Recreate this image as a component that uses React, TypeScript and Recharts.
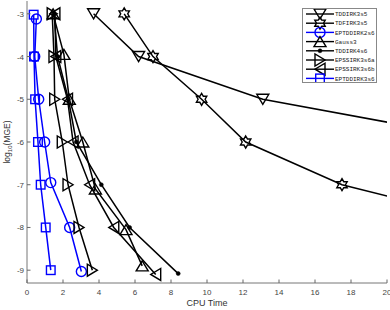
import React from 'react';
import { LineChart, Line, XAxis, YAxis, Legend } from 'recharts';

// ---- data ----
const seriesNames = ['TDDIRK3s5', 'TDFIRK3s5', 'EPTDDIRK2s6', 'Gauss3', 'TDDIRK4s6', 'EPSSIRK3s6a', 'EPSSIRK3s6b', 'EPTDDIRK3s6'];
const seriesColors = ['#000000', '#000000', '#0000ff', '#000000', '#000000', '#000000', '#000000', '#0000ff'];
const seriesMarkers = ['v', 'hex', 'o', '^', 'dot', '>', '<', 'sq'];

const tddirk3s5Time = [3.7, 6.2, 13.1, 26];
const tddirk3s5Err = [-3, -4, -5, -6];
const tdfirk3s5Time = [5.4, 7.0, 9.7, 12.15, 17.5, 27];
const tdfirk3s5Err = [-3, -4, -5, -6, -7, -8];
const eptddirk2s6Time = [0.52, 0.43, 0.65, 0.98, 1.32, 2.37, 3.02];
const eptddirk2s6Err = [-3.12, -4, -5, -6, -6.95, -8, -9.03];
const gauss3Time = [1.45, 2.05, 2.35, 3.1, 3.8, 5.5, 6.4];
const gauss3Err = [-3, -3.95, -5, -6, -7.1, -8.05, -8.9];
const tddirk4s6Time = [1.5, 1.7, 2.3, 2.74, 4.13, 5.7, 8.4];
const tddirk4s6Err = [-3, -4, -5, -6, -7, -8, -9.08];
const epssirk3s6aTime = [1.4, 1.5, 1.54, 1.96, 2.28, 2.89, 3.63];
const epssirk3s6aErr = [-3, -4, -5, -6, -7, -8, -9];
const epssirk3s6bTime = [1.55, 1.6, 2.25, 2.56, 3.48, 4.82, 7.15];
const epssirk3s6bErr = [-3, -4, -5, -6, -7, -8, -9.1];
const eptddirk3s6Time = [0.37, 0.39, 0.45, 0.61, 0.76, 1.04, 1.32];
const eptddirk3s6Err = [-3.02, -4, -5, -6, -7, -8, -9];

const xTicks = [0, 2, 4, 6, 8, 10, 12, 14, 16, 18, 20];
const yTicks = [-9, -8, -7, -6, -5, -4, -3];

const seriesTimes = [tddirk3s5Time, tdfirk3s5Time, eptddirk2s6Time, gauss3Time, tddirk4s6Time, epssirk3s6aTime, epssirk3s6bTime, eptddirk3s6Time];
const seriesErrs = [tddirk3s5Err, tdfirk3s5Err, eptddirk2s6Err, gauss3Err, tddirk4s6Err, epssirk3s6aErr, epssirk3s6bErr, eptddirk3s6Err];

const seriesData = seriesTimes.map((ts, i) => ts.map((t, j) => ({ x: t, y: seriesErrs[i][j] })));

// ---- markers ----
function Marker({ shape, cx, cy, color }: { shape: string; cx: number; cy: number; color: string }) {
  const sw = 1.4;
  const common = { fill: 'none', stroke: color, strokeWidth: sw };
  switch (shape) {
    case 'v':
      return <polygon {...common} points={`${cx - 6},${cy - 5} ${cx + 6},${cy - 5} ${cx},${cy + 5}`} />;
    case '^':
      return <polygon {...common} points={`${cx - 6},${cy + 5} ${cx + 6},${cy + 5} ${cx},${cy - 5}`} />;
    case '>':
      return <polygon {...common} points={`${cx - 5},${cy - 6} ${cx - 5},${cy + 6} ${cx + 5},${cy}`} />;
    case '<':
      return <polygon {...common} points={`${cx + 5},${cy - 6} ${cx + 5},${cy + 6} ${cx - 5},${cy}`} />;
    case 'o':
      return <circle {...common} cx={cx} cy={cy} r={5} />;
    case 'sq':
      return <rect {...common} x={cx - 4.3} y={cy - 4.3} width={8.6} height={8.6} />;
    case 'dot':
      return <circle fill={color} stroke={color} strokeWidth={0.5} cx={cx} cy={cy} r={2} />;
    case 'hex': {
      const pts: string[] = [];
      for (let k = 0; k < 12; k++) {
        const ang = -Math.PI / 2 + (k * Math.PI) / 6;
        const r = k % 2 === 0 ? 6 : 3.5;
        pts.push(`${cx + r * Math.cos(ang)},${cy + r * Math.sin(ang)}`);
      }
      return <polygon {...common} points={pts.join(' ')} />;
    }
    default:
      return null;
  }
}

const tickFont = { fontFamily: 'Liberation Sans, Arial, sans-serif', fontSize: 8, fill: '#444' };

const XTick = (props: any) => {
  const { x, y, payload } = props;
  return (
    <g>
      <line x1={x} x2={x} y1={y - 6} y2={y - 9.5} stroke="#666" strokeWidth={1} />
      <text x={x} y={y} dy={6} textAnchor="middle" {...tickFont}>{payload.value}</text>
    </g>
  );
};

const YTick = (props: any) => {
  const { x, y, payload } = props;
  return (
    <g>
      <line x1={x + 3} x2={x + 6.5} y1={y} y2={y} stroke="#666" strokeWidth={1} />
      <text x={x} y={y} dy={3} textAnchor="end" {...tickFont}>{payload.value}</text>
    </g>
  );
};

const renderLegend = () => (
  <div style={{ width: 75, height: 75, border: '1px solid #888', background: '#fff', boxSizing: 'border-box' }}>
    <svg width={73} height={73} style={{ display: 'block' }}>
      {seriesNames.map((name, i) => {
        const cy = 5 + i * 9.2;
        return (
          <g key={name}>
            <line x1={3} x2={31} y1={cy} y2={cy} stroke={seriesColors[i]} strokeWidth={1.4} />
            <Marker shape={seriesMarkers[i]} cx={17} cy={cy} color={seriesColors[i]} />
            <text x={32} y={cy + 2.1} fontFamily="Liberation Mono, DejaVu Sans Mono, monospace" fontSize={6} fill="#222">{name}</text>
          </g>
        );
      })}
    </svg>
  </div>
);

export default function App() {
  return (
    <div style={{ position: 'absolute', left: 0, top: 0, width: 390, height: 310, background: '#fff' }}>
      <LineChart width={390} height={310} margin={{ top: 1, right: 3, bottom: 0, left: 0 }}>
        <XAxis
          type="number"
          dataKey="x"
          domain={[0, 20]}
          allowDataOverflow
          ticks={xTicks}
          interval={0}
          height={27}
          stroke="#777"
          tickLine={false}
          tickSize={0}
          tickMargin={6}
          tick={<XTick />}
          label={{
            content: (p: any) => {
              const vb = p.viewBox;
              return (
                <text x={vb.x + vb.width / 2} y={vb.y + 23} textAnchor="middle" fontFamily="Liberation Sans, Arial, sans-serif" fontSize={9} fill="#333">
                  CPU Time
                </text>
              );
            },
          }}
        />
        <YAxis
          type="number"
          dataKey="y"
          domain={[-9.3, -2.7]}
          allowDataOverflow
          ticks={yTicks}
          interval={0}
          width={27}
          stroke="#777"
          tickLine={false}
          tickSize={0}
          tickMargin={3}
          tick={<YTick />}
          label={{
            content: () => (
              <text x={0} y={0} transform="translate(10,142) rotate(-90)" textAnchor="middle" fontFamily="Liberation Sans, Arial, sans-serif" fontSize={8.5} fill="#333">
                log
                <tspan fontSize={6} dy={2}>10</tspan>
                <tspan dy={-2}>(MGE)</tspan>
              </text>
            ),
          }}
        />
        {seriesNames.map((name, i) => (
          <Line
            key={name}
            name={name}
            data={seriesData[i]}
            dataKey="y"
            stroke={seriesColors[i]}
            strokeWidth={1.5}
            isAnimationActive={false}
            dot={(p: any) => <Marker key={`${name}-${p.index}`} shape={seriesMarkers[i]} cx={p.cx} cy={p.cy} color={seriesColors[i]} />}
            activeDot={false}
          />
        ))}
        <Legend
          layout="vertical"
          align="center"
          verticalAlign="middle"
          content={renderLegend}
          wrapperStyle={{ left: 302, top: 8, width: 75, height: 75 }}
        />
      </LineChart>
    </div>
  );
}
